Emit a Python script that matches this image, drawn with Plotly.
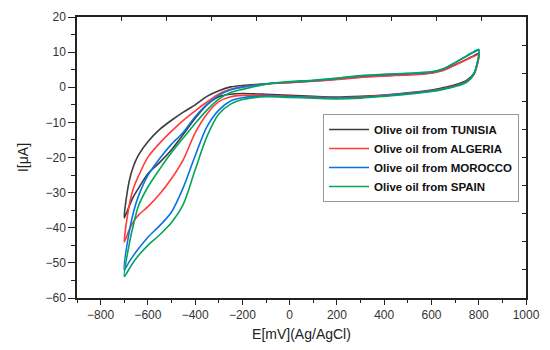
import plotly.graph_objects as go

# Potential grid (mV) for the forward (upper) and reverse (lower) branches
E_grid = [-700, -680, -660, -640, -600, -550, -500, -450, -400, -350, -300, -250,
          -200, -100, 0, 100, 200, 300, 400, 500, 600, 650, 700, 750, 780, 800]

# Current (uA), upper branch along E_grid
tunisia_up = [-37.2, -27.0, -22.3, -19.3, -15.5, -12.0, -9.4, -7.1, -5.0, -2.6, -1.0, 0.1,
              0.5, 1.0, 1.4, 1.8, 2.3, 2.9, 3.3, 3.6, 4.1, 4.9, 6.4, 8.0, 9.0, 9.6]
algeria_up = [-44.1, -34.0, -28.5, -25.3, -19.9, -15.9, -12.5, -9.4, -6.7, -4.2, -1.9, -0.6,
              0.1, 0.9, 1.3, 1.7, 2.2, 2.8, 3.2, 3.5, 4.0, 4.8, 6.3, 7.9, 8.8, 9.3]
morocco_up = [-52.0, -41.5, -35.3, -31.0, -25.1, -20.3, -16.2, -12.8, -8.4, -4.9, -2.3, -0.7,
              0.0, 1.0, 1.5, 1.9, 2.5, 3.2, 3.6, 3.9, 4.3, 5.2, 7.0, 8.9, 10.0, 10.5]
spain_up = [-53.9, -45.0, -38.8, -33.8, -28.4, -23.3, -18.6, -14.4, -10.3, -6.5, -3.4, -1.5,
            -0.6, 0.9, 1.6, 2.0, 2.6, 3.3, 3.7, 4.0, 4.4, 5.3, 7.0, 9.0, 10.2, 10.8]

# Current (uA), lower branch along E_grid
tunisia_dn = [-37.2, -34.0, -31.0, -28.8, -24.6, -21.4, -17.8, -13.4, -8.8, -5.0, -2.7, -2.0,
              -1.8, -2.0, -2.3, -2.6, -2.8, -2.6, -2.2, -1.6, -0.8, -0.1, 0.7, 2.0, 4.0, 9.6]
algeria_dn = [-44.1, -40.7, -38.1, -36.4, -34.0, -30.4, -26.0, -20.6, -13.0, -7.6, -4.1, -2.7,
              -2.3, -2.3, -2.6, -2.8, -3.0, -2.8, -2.3, -1.7, -1.0, -0.4, 0.4, 1.7, 3.7, 9.3]
morocco_dn = [-52.0, -49.8, -47.8, -46.0, -42.7, -39.4, -35.5, -28.5, -19.5, -11.2, -6.5, -3.9,
              -3.0, -2.5, -2.7, -2.9, -3.1, -2.9, -2.4, -1.8, -1.1, -0.5, 0.3, 1.6, 3.8, 10.5]
spain_dn = [-53.9, -51.8, -49.7, -47.9, -45.0, -42.0, -38.5, -33.3, -23.5, -14.0, -7.6, -4.8,
            -3.5, -2.7, -2.9, -3.1, -3.3, -3.1, -2.6, -2.0, -1.2, -0.6, 0.2, 1.5, 3.8, 10.8]

names = ["Olive oil from TUNISIA", "Olive oil from ALGERIA",
         "Olive oil from MOROCCO", "Olive oil from SPAIN"]
colors = ["#3c3c3c", "#ff3b3b", "#0a72e6", "#00a65a"]
ups = [tunisia_up, algeria_up, morocco_up, spain_up]
dns = [tunisia_dn, algeria_dn, morocco_dn, spain_dn]

x_ticks = [-800, -600, -400, -200, 0, 200, 400, 600, 800, 1000]
y_ticks = [20, 10, 0, -10, -20, -30, -40, -50, -60]

fig = go.Figure()
for name, col, up, dn in zip(names, colors, ups, dns):
    xs = E_grid + E_grid[::-1][1:]
    ys = up + dn[::-1][1:]
    fig.add_trace(go.Scatter(x=xs, y=ys, mode="lines", name=name,
                             line=dict(color=col, width=1.6, shape="spline", smoothing=0.8)))

# invisible trace for the opposite (top/right) axes
fig.add_trace(go.Scatter(x=[None], y=[None], xaxis="x2", yaxis="y2", showlegend=False,
                         hoverinfo="skip"))

font_main = "Arial, Liberation Sans, sans-serif"
fig.update_layout(
    width=550, height=350,
    margin=dict(l=69, r=32, t=9, b=60),
    plot_bgcolor="white", paper_bgcolor="white",
    font=dict(family=font_main, size=12, color="#222"),
    showlegend=True,
    legend=dict(x=0.548, y=0.655, xanchor="left", yanchor="top",
                bgcolor="white", bordercolor="#999", borderwidth=1,
                font=dict(family=font_main, size=11.5, color="#111", weight="bold"),
                tracegroupgap=0, itemwidth=40),
    xaxis=dict(range=[-900, 1000], tickvals=x_ticks, ticks="outside", ticklen=5,
               tickwidth=1.2, tickcolor="#222", automargin=False,
               minor=dict(dtick=100, tick0=-900, ticks="outside", ticklen=3, tickcolor="#222"),
               showline=True, linecolor="#222", linewidth=1.5, showgrid=False, zeroline=False,
               title=dict(text="E[mV](Ag/AgCl)", font=dict(size=14, color="#222"), standoff=8),
               tickfont=dict(size=12, color="#333")),
    yaxis=dict(range=[-60, 20], tickvals=y_ticks, ticks="outside", ticklen=7,
               tickwidth=1.2, tickcolor="#222", automargin=False,
               minor=dict(dtick=5, tick0=-60, ticks="outside", ticklen=4, tickcolor="#222"),
               showline=True, linecolor="#222", linewidth=1.5, showgrid=False, zeroline=False,
               title=dict(text="I[μA]", font=dict(size=14, color="#222"), standoff=14),
               tickfont=dict(size=12, color="#333")),
    xaxis2=dict(range=[-900, 1000], overlaying="x", side="top", tickmode="linear",
                tick0=-900, dtick=190, ticks="inside", ticklen=4, tickcolor="#222",
                showticklabels=False, showline=True, linecolor="#222", linewidth=1.5,
                showgrid=False, zeroline=False, automargin=False),
    yaxis2=dict(range=[-60, 20], overlaying="y", side="right", tickmode="linear",
                tick0=-60, dtick=8, ticks="inside", ticklen=4, tickcolor="#222",
                showticklabels=False, showline=True, linecolor="#222", linewidth=1.5,
                showgrid=False, zeroline=False, automargin=False),
)

fig.write_html("out.html")
